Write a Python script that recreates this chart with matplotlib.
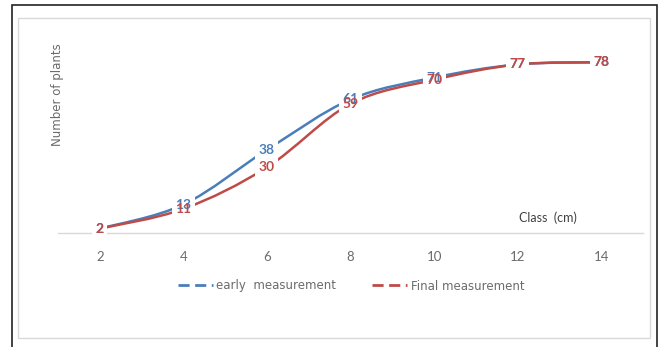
import matplotlib

matplotlib.use("Agg")

import matplotlib.pyplot as plt
import numpy as np
from matplotlib.lines import Line2D
from matplotlib.patches import PathPatch, Rectangle
from matplotlib.path import Path

classes = ["2", "4", "6", "8", "10", "12", "14"]
early = [2, 13, 38, 61, 71, 77, 78]
final = [2, 11, 30, 59, 70, 77, 78]

BLUE = "#4a7ebb"
RED = "#be4b48"
GRAY = "#6b6b6b"

plt.rcParams["font.family"] = ["Lato", "DejaVu Sans"]


def smooth_path(xs, ys, tension=1 / 6):
    """Catmull-Rom style Bezier path through the points (Excel 'smoothed line')."""
    pts = np.column_stack([xs, ys]).astype(float)
    verts = [pts[0]]
    codes = [Path.MOVETO]
    n = len(pts)
    for i in range(n - 1):
        p0 = pts[i - 1] if i > 0 else pts[i]
        p1, p2 = pts[i], pts[i + 1]
        p3 = pts[i + 2] if i + 2 < n else pts[i + 1]
        c1 = p1 + (p2 - p0) * tension
        c2 = p2 - (p3 - p1) * tension
        verts += [c1, c2, p2]
        codes += [Path.CURVE4] * 3
    return Path(verts, codes)


fig = plt.figure(figsize=(6.61, 3.47), dpi=100)
ax = fig.add_axes([58 / 661, 1 - 233 / 347, (643 - 58) / 661, (233 - 36) / 347])

x = np.arange(len(classes))
for ys, color in [(early, BLUE), (final, RED)]:
    ax.add_patch(PathPatch(smooth_path(x, ys), facecolor="none", edgecolor=color, lw=1.8, zorder=2))

ax.set_xlim(-0.5, len(classes) - 0.5)
ax.set_ylim(0, 90)

# white boxes first so both labels of a point stay readable where they overlap
for ys in (early, final):
    for xi, yi in zip(x, ys):
        ax.text(xi, yi, str(yi), ha="center", va="center", fontsize=10, fontweight="bold",
                color="white", zorder=3,
                bbox=dict(boxstyle="square,pad=0.25", fc="white", ec="none"))
for ys, color in [(early, BLUE), (final, RED)]:
    for xi, yi in zip(x, ys):
        ax.text(xi, yi, str(yi), ha="center", va="center", fontsize=10, fontweight="bold",
                color=color, zorder=4)

for side in ("top", "left", "right"):
    ax.spines[side].set_visible(False)
ax.spines["bottom"].set_color("#d9d9d9")
ax.spines["bottom"].set_linewidth(1.0)
ax.set_yticks([])
ax.set_xticks(x)
ax.set_xticklabels(classes, color=GRAY, fontsize=9.5)
ax.tick_params(axis="x", length=0, pad=13)

fig.text(57 / 661, 1 - 95 / 347, "Number of plants", rotation=90, ha="center", va="center",
         fontsize=8.5, color=GRAY, family="DejaVu Sans")
fig.text(548 / 661, 1 - 218 / 347, "Class  (cm)", ha="center", va="center", fontsize=9,
         color="#404040")

handles = [
    Line2D([], [], color=BLUE, lw=2, ls=(0, (4, 2))),
    Line2D([], [], color=RED, lw=2, ls=(0, (4, 2))),
]
fig.legend(handles, ["early  measurement", "Final measurement"], loc="center",
           bbox_to_anchor=(351 / 661, 1 - 286 / 347), ncol=2, frameon=False,
           labelcolor=GRAY, handlelength=3.0, handletextpad=0.3, columnspacing=3.0,
           prop={"family": "DejaVu Sans", "size": 8.5})

# chart area outline and outer frame
fig.patches.append(Rectangle((18 / 661, 1 - 338 / 347), (650 - 18) / 661, (338 - 18) / 347,
                             transform=fig.transFigure, fill=False, ec="#d9d9d9", lw=1))
fig.patches.append(Rectangle((12 / 661, -0.02), (657 - 12) / 661, 1 - 5 / 347 + 0.02,
                             transform=fig.transFigure, fill=False, ec="#222222", lw=1.2))

fig.savefig("out.png", dpi=100)
